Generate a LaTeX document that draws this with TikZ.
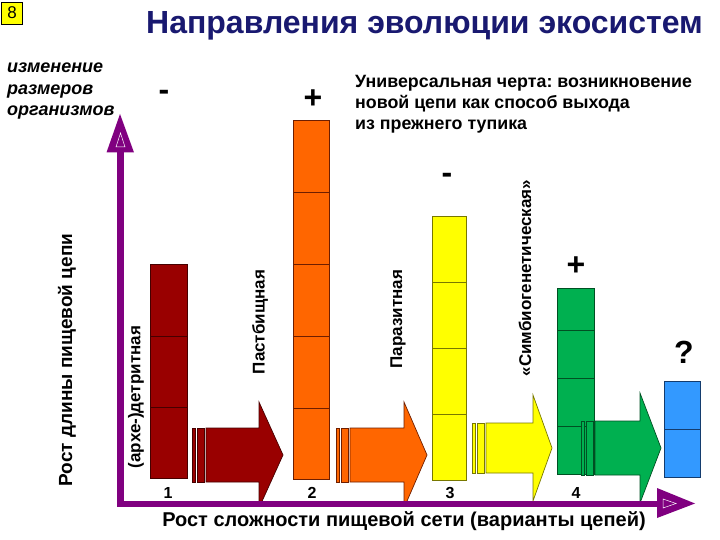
\documentclass[tikz,border=0pt]{standalone}
\usepackage{fontspec}
\setmainfont{Liberation Sans}
\frenchspacing
\definecolor{ttl}{RGB}{25,25,112}
\definecolor{axp}{RGB}{128,0,128}
\definecolor{c1}{RGB}{153,0,0}\definecolor{o1}{RGB}{70,0,0}
\definecolor{c2}{RGB}{255,102,0}\definecolor{o2}{RGB}{110,30,0}
\definecolor{c3}{RGB}{255,255,0}\definecolor{o3}{RGB}{120,120,0}
\definecolor{c4}{RGB}{0,176,80}\definecolor{o4}{RGB}{0,80,35}
\definecolor{c5}{RGB}{51,153,255}\definecolor{o5}{RGB}{20,60,110}
\definecolor{badge}{RGB}{255,255,0}
\newcommand{\blkarrow}[7]{%
  \draw[#1] ({#2-14},{#5-#6}) rectangle ({#2-10.5},{#5+#6});
  \draw[#1] ({#2-9},{#5-#6}) rectangle ({#2-2},{#5+#6});
  \draw[#1] (#2,{#5-#6}) -- (#3,{#5-#6}) -- (#3,{#5-#7}) -- (#4,#5) -- (#3,{#5+#7}) -- (#3,{#5+#6}) -- (#2,{#5+#6}) -- cycle;
}
\begin{document}
\begin{tikzpicture}[x=1pt,y=-1pt,
  lbl/.style={font=\bfseries\fontsize{17}{17}\selectfont, inner sep=0pt},
  vlabel/.style={lbl, rotate=90},
  bigl/.style={font=\bfseries\fontsize{19}{19}\selectfont, inner sep=0pt},
  sign/.style={font=\bfseries\fontsize{32}{32}\selectfont, inner sep=0pt},
  num/.style={font=\bfseries\fontsize{16}{16}\selectfont, inner sep=0pt},
  bar1/.style={fill=c1, draw=o1, line width=0.7pt},
  bar2/.style={fill=c2, draw=o2, line width=0.7pt},
  bar3/.style={fill=c3, draw=o3, line width=0.7pt},
  bar4/.style={fill=c4, draw=o4, line width=0.7pt},
  bar5/.style={fill=c5, draw=o5, line width=0.7pt},
]
\useasboundingbox (0,0) rectangle (720,540);
\fill[white] (0,0) rectangle (720,540);

% badge and title
\node[draw=black, fill=badge, line width=0.6pt, inner sep=1.5pt, minimum width=21pt, minimum height=22pt,
  font=\fontsize{17}{17}\selectfont] (badge8) at (12,13) {8};
\node[font=\bfseries\fontsize{32}{32}\selectfont, text=ttl, inner sep=0pt, anchor=base west] (title) at (146,34) {Направления эволюции экосистем};

% left italic text
\node[font=\bfseries\itshape\fontsize{18}{21.5}\selectfont, align=left, inner sep=0pt, anchor=north west] (sizes) at (7,63)
  {изменение\\размеров\\организмов};

% universal feature text
\node[font=\bfseries\fontsize{17.8}{21}\selectfont, align=left, inner sep=0pt, anchor=north west] (univ) at (355,75)
  {Универсальная черта: возникновение\\новой цепи как способ выхода\\из прежнего тупика};

% bars
\draw[bar1] (150,264) rectangle (187,478);
\foreach \yy in {336,407} \draw[o1, line width=0.8pt] (150,\yy) -- (187,\yy);
\draw[bar2] (293,120) rectangle (329,479);
\foreach \yy in {192,264,336,408} \draw[o2, line width=0.8pt] (293,\yy) -- (329,\yy);
\draw[bar3] (432,216) rectangle (466,480);
\foreach \yy in {282,348,414} \draw[o3, line width=0.8pt] (432,\yy) -- (466,\yy);
\draw[bar4] (557,288) rectangle (594,474);
\foreach \yy in {330,378,426} \draw[o4, line width=0.8pt] (557,\yy) -- (594,\yy);
\draw[bar5] (664,381) rectangle (700,477);
\draw[o5, line width=0.8pt] (664,429) -- (700,429);

% block arrows
\begin{scope}
\clip (0,0) rectangle (720,503);
\blkarrow{bar1}{206}{259}{283}{455}{27}{53}
\blkarrow{bar2}{350}{404}{427}{455}{27}{53}
\blkarrow{bar3}{486}{533}{552}{448}{25}{53}
\blkarrow{bar4}{595}{640}{661}{448}{27}{55}
\end{scope}

% signs
\node[sign] (s1) at (164,95) {-};
\node[sign] (s2) at (313,99) {+};
\node[sign] (s3) at (447,178) {-};
\node[sign] (s4) at (576,266) {+};
\node[sign] (s5) at (684,352) {?};

% rotated labels
\node[vlabel] (l1) at (136,397) {(архе-)детритная};
\node[vlabel] (l2) at (260,322) {Пастбищная};
\node[vlabel] (l3) at (398,319) {Паразитная};
\node[vlabel] (l4) at (525,278) {«Симбиогенетическая»};
\node[bigl, rotate=90] (yl) at (67,360) {Рост длины пищевой цепи};

% numbers
\node[num] (n1) at (168,493) {1};
\node[num] (n2) at (312,493) {2};
\node[num] (n3) at (450,493) {3};
\node[num] (n4) at (576,493) {4};

% axes
\coordinate (orig) at (117,503.5);
\coordinate (ytip) at (120,114);
\coordinate (xtip) at (695,503.5);
\draw[axp, line width=6.5pt] (120.5,506.5) -- (120.5,150);
\draw[axp, line width=6pt] (117,503.5) -- (660,503.5);
\fill[axp] (ytip) -- (106.5,152.5) -- (134,152.5) -- cycle;
\draw[white, line width=0.5pt] (120.5,133) -- (116,147) -- (125,147) -- cycle;
\fill[axp] (xtip) -- (657,488) -- (657,518) -- cycle;
\draw[white, line width=0.5pt] (663,499) -- (676,503.5) -- (663,508) -- cycle;

\node[font=\bfseries\fontsize{20}{20}\selectfont, inner sep=0pt] (xl) at (404,521) {Рост сложности пищевой сети (варианты цепей)};
\end{tikzpicture}
\end{document}
